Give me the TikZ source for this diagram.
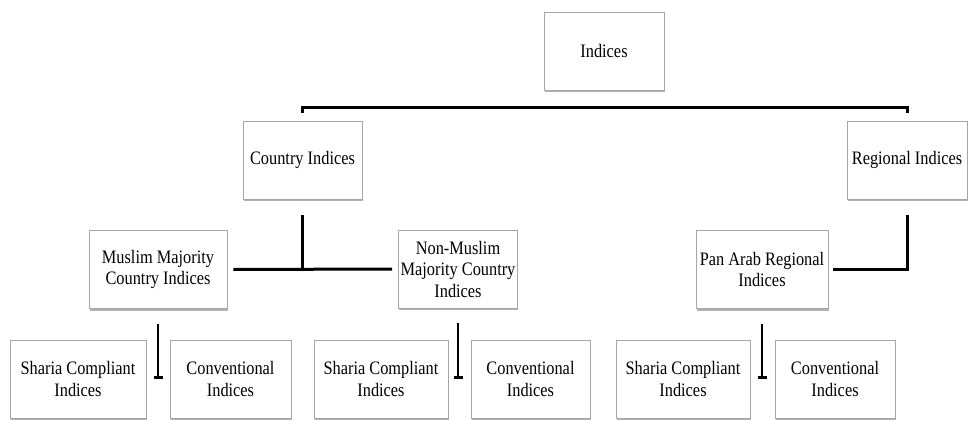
\documentclass[tikz,border=0pt]{standalone}
\usepackage{fontspec}
\setmainfont{Liberation Serif}[FakeStretch=0.86]
\usepackage{tikz}
\usetikzlibrary{arrows.meta, shadows, calc}
\tikzset{idxbox/.style={rectangle, draw=black!35, fill=white, line width=0.8pt,
minimum height=78pt, align=center, inner sep=2pt,
font=\fontsize{19}{21.5}\selectfont,
drop shadow={shadow xshift=0.6pt, shadow yshift=-2pt, fill=black!60, opacity=0.5}}}
\tikzset{link/.style={draw=black, line width=3pt}}
\tikzset{teelink/.style={draw=black, line width=2.8pt, -{Bar[width=9pt, line width=2.8pt]}}}

\begin{document}
\begin{tikzpicture}[x=1pt, y=-1pt]
\useasboundingbox (0,0) rectangle (968,420);

\node [idxbox, minimum width=120pt] (root) at (604,51) {Indices};

\node [idxbox, minimum width=119pt] (country) at (302.5,160) {Country Indices};
\node [idxbox, minimum width=120pt] (regional) at (907,160) {Regional Indices};

\node [idxbox, minimum width=138pt] (muslim) at (158,269.5) {Muslim Majority\\Country Indices};
\node [idxbox, minimum width=118pt] (nonmuslim) at (458,269) {Non-Muslim\\Majority Country\\Indices};
\node [idxbox, minimum width=132pt] (panarab) at (762,269.5) {Pan Arab Regional\\Indices};

\node [idxbox, minimum width=136pt] (shariaA) at (78,379) {Sharia Compliant\\Indices};
\node [idxbox, minimum width=121pt] (convA) at (230.5,379) {Conventional\\Indices};
\node [idxbox, minimum width=134pt] (shariaB) at (381,379) {Sharia Compliant\\Indices};
\node [idxbox, minimum width=119pt] (convB) at (530.5,379) {Conventional\\Indices};
\node [idxbox, minimum width=134pt] (shariaC) at (683,379) {Sharia Compliant\\Indices};
\node [idxbox, minimum width=120pt] (convC) at (835,379) {Conventional\\Indices};

\draw [link] ([yshift=8pt]country.north) -- ([yshift=13pt]country.north)
  -| ([yshift=8pt]regional.north);

\draw [link] ([yshift=-16pt]country.south) -- (country.south |- muslim.east);
\draw [link] ([xshift=6pt]muslim.east) -- ([xshift=-6pt]nonmuslim.west);
\draw [link] ([yshift=-16pt]regional.south) |- ([xshift=5pt]panarab.east);

\draw [teelink] ([yshift=-15pt]muslim.south) -- (muslim.south |- shariaA.center);
\draw [teelink] ([yshift=-15pt]nonmuslim.south) -- (nonmuslim.south |- shariaB.center);
\draw [teelink] ([yshift=-15pt]panarab.south) -- (panarab.south |- shariaC.center);

\end{tikzpicture}
\end{document}
